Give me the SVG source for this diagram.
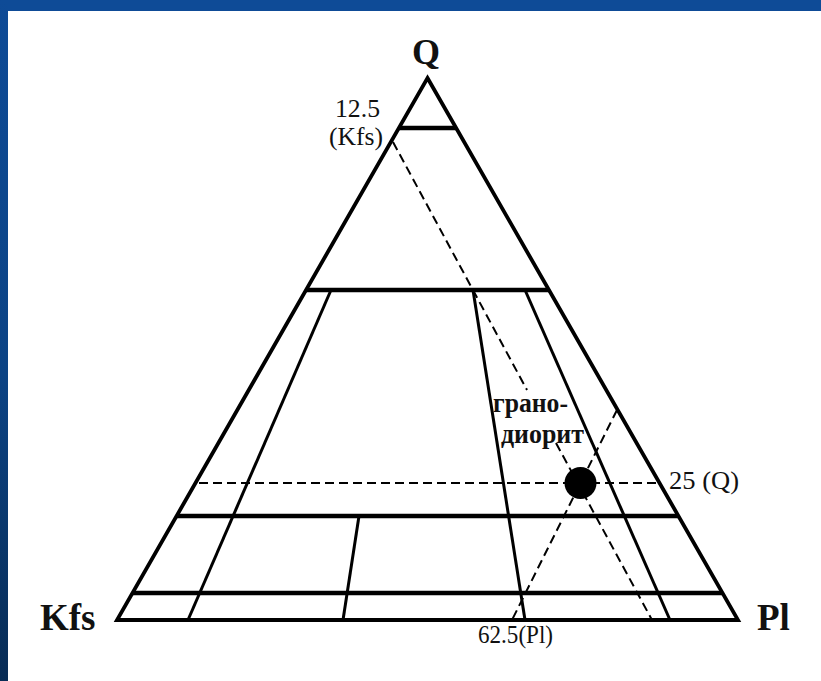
<svg xmlns="http://www.w3.org/2000/svg" width="821" height="681" viewBox="0 0 821 681">
<defs>
<linearGradient id="lg" x1="0" y1="0" x2="0" y2="1">
<stop offset="0" stop-color="#0e4b97"/>
<stop offset="0.55" stop-color="#0c4384"/>
<stop offset="1" stop-color="#082c55"/>
</linearGradient>
<style>
.edge{stroke:#000;stroke-width:3.8;fill:none;stroke-linejoin:miter}
.hz{stroke:#000;stroke-width:4.5;fill:none}
.ln{stroke:#000;stroke-width:3;fill:none}
.ds{stroke:#000;stroke-width:2;fill:none;stroke-dasharray:9 5}
.lab{font-family:"Liberation Serif",serif;fill:#111}
.big{font-family:"Liberation Serif",serif;font-weight:bold;fill:#111}
</style>
</defs>
<rect x="0" y="0" width="821" height="681" fill="#0e4b97"/>
<rect x="0" y="0" width="8" height="681" fill="url(#lg)"/>
<rect x="8" y="11" width="813" height="670" fill="#fff"/>
<g id="connectors">
<line class="ds" x1="393" y1="142" x2="527" y2="390"/>
<line class="ds" x1="556" y1="443" x2="652" y2="620"/>
<line class="ds" x1="199" y1="483" x2="657" y2="483"/>
<line class="ds" x1="617" y1="410" x2="512" y2="620"/>
<line class="hz" x1="399" y1="128" x2="456" y2="128"/>
<line class="hz" x1="306" y1="290" x2="549" y2="290"/>
<line class="hz" x1="177" y1="516" x2="678" y2="516"/>
<line class="hz" x1="133" y1="593" x2="722" y2="593"/>
<line class="ln" x1="331" y1="290" x2="188" y2="620"/>
<line class="ln" x1="473" y1="290" x2="525" y2="620"/>
<line class="ln" x1="525" y1="290" x2="670" y2="620"/>
<line class="ln" x1="359" y1="516" x2="343" y2="620"/>
</g>
<g id="triangle">
<polygon class="edge" points="427.5,78 738,620 117,620"/>
</g>
<g id="point">
<circle cx="580.5" cy="483" r="16" fill="#000"/>
</g>
<g id="label-Q"><text class="big" x="426" y="64" font-size="36" text-anchor="middle">Q</text></g>
<g id="label-Kfs"><text class="big" x="40" y="630" font-size="37">Kfs</text></g>
<g id="label-Pl"><text class="big" x="757" y="630" font-size="37">Pl</text></g>
<g id="label-125">
<text class="lab" x="335" y="117" font-size="25" textLength="45" lengthAdjust="spacingAndGlyphs">12.5</text>
<text class="lab" x="329" y="145" font-size="25" textLength="54" lengthAdjust="spacingAndGlyphs">(Kfs)</text>
</g>
<g id="label-25Q"><text class="lab" x="669" y="489" font-size="26" textLength="70" lengthAdjust="spacingAndGlyphs">25 (Q)</text></g>
<g id="label-625"><text class="lab" x="478" y="643" font-size="25" textLength="75" lengthAdjust="spacingAndGlyphs">62.5(Pl)</text></g>
<g id="label-granodiorite">
<text class="big" x="493" y="412" font-size="27" textLength="75" lengthAdjust="spacingAndGlyphs">грано-</text>
<text class="big" x="501" y="443" font-size="27" textLength="83" lengthAdjust="spacingAndGlyphs">диорит</text>
</g>
</svg>
